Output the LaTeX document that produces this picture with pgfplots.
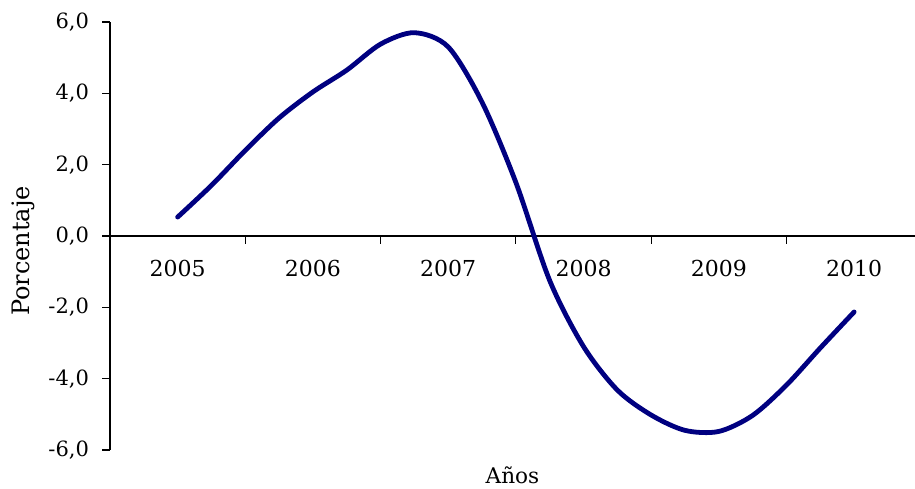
\documentclass[border=0pt]{standalone}
\usepackage{fontspec}
\setmainfont{DejaVu Serif}
\usepackage{pgfplots}
\pgfplotsset{compat=1.18}
\definecolor{linenavy}{RGB}{0,0,128}

\begin{document}
\begin{tikzpicture}
\begin{axis}[
    scale only axis,
    width=402.5pt, height=214pt,
    xmin=2004.5, xmax=2010.45,
    ymin=-6, ymax=6,
    axis y line*=left,
    axis x line*=middle,
    axis line style={black, line width=0.6pt},
    xtick={2005,2006,2007,2008,2009,2010},
    xticklabels={2005,2006,2007,2008,2009,2010},
    minor xtick={2005.5,2006.5,2007.5,2008.5,2009.5},
    major x tick style={draw=none},
    minor x tick style={black, line width=0.6pt},
    ytick={-6,-4,-2,0,2,4,6},
    tick align=outside,
    major tick length=4pt,
    minor tick length=4pt,
    ytick style={black, line width=0.6pt},
    /pgf/number format/assume math mode=true,
    yticklabel={\pgfmathprintnumber[fixed,fixed zerofill,precision=1,use comma]{\tick}},
    yticklabel style={font=\fontsize{10.5}{12}\selectfont, xshift=-3pt},
    xticklabel style={font=\fontsize{11}{13}\selectfont, yshift=-4.5pt},
    xlabel={Años},
    ylabel={Porcentaje},
    xlabel style={font=\fontsize{10.8}{12}\selectfont, at={(axis description cs:0.5,0)}, anchor=north, yshift=-5pt},
    ylabel style={font=\fontsize{12}{14}\selectfont, at={(axis description cs:-0.108,0.465)}, anchor=center},
    clip=false,
]
\addplot[linenavy, line width=2.4pt, smooth, line cap=round] coordinates {
(2005.00,0.53) (2005.25,1.42) (2005.50,2.40) (2005.75,3.31) (2006.00,4.04)
(2006.25,4.65) (2006.50,5.38) (2006.75,5.70) (2007.00,5.30) (2007.25,3.75)
(2007.50,1.50) (2007.75,-1.25) (2008.00,-3.10) (2008.25,-4.32) (2008.50,-5.02)
(2008.75,-5.45) (2009.00,-5.48) (2009.25,-5.03) (2009.50,-4.18) (2009.75,-3.14)
(2010.00,-2.13)
};
\end{axis}
\pgfresetboundingbox
\path[use as bounding box] ([xshift=-55pt,yshift=-19.5pt]current axis.south west)
    rectangle ([yshift=11pt]current axis.north east);
\end{tikzpicture}
\end{document}
